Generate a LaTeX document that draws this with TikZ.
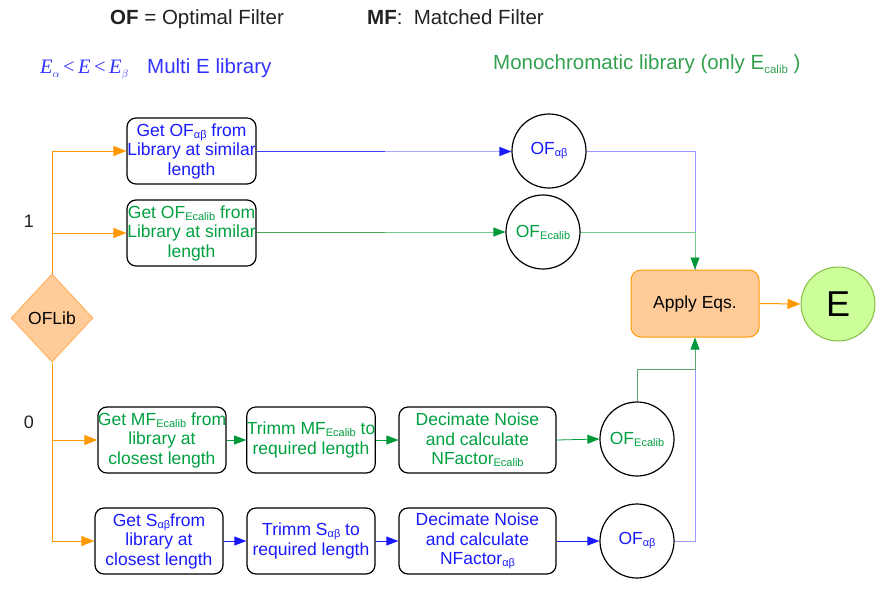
\documentclass[tikz,border=0pt]{standalone}
\usepackage{fontspec}
\setmainfont{Liberation Sans}
\newfontfamily\serifit{Liberation Serif}
\usetikzlibrary{arrows.meta,shapes.geometric}
\definecolor{blueT}{HTML}{1A1AFF}
\definecolor{blueH}{HTML}{3333FF}
\definecolor{blueS}{HTML}{4040FF}
\definecolor{blueL}{HTML}{9999FF}
\definecolor{blueM}{HTML}{AAAAFF}
\definecolor{greenT}{HTML}{00A040}
\definecolor{greenH}{HTML}{33A050}
\definecolor{greenL}{HTML}{77CC88}
\definecolor{greenM}{HTML}{44AA55}
\definecolor{greenA}{HTML}{00993A}
\definecolor{orangeL}{HTML}{FF9900}
\definecolor{peach}{HTML}{FFCC99}
\definecolor{peachB}{HTML}{FFB366}
\definecolor{lime}{HTML}{CCFF99}
\definecolor{limeB}{HTML}{88BB44}
\definecolor{darkT}{HTML}{222222}
\newcommand{\sub}[1]{\raisebox{-2pt}{\fontsize{11}{11}\selectfont #1}}
\begin{document}
\begin{tikzpicture}[x=1pt,y=-1pt,
  every node/.style={font=\fontsize{17.5}{19.5}\selectfont},
  procbox/.style={draw=black,line width=1.2pt,rounded corners=9pt,align=center,inner sep=0pt,minimum height=66pt},
  fcircle/.style={draw=black,line width=1.2pt,circle,minimum size=74pt,inner sep=0pt},
  btip/.style={-{Triangle[length=12pt,width=9pt,color=blueT]}},
  gtip/.style={-{Triangle[length=12pt,width=9pt,color=greenA]}},
  oarr/.style={draw=orangeL,line width=1pt,-{Triangle[length=13pt,width=10pt,color=orangeL]}},
  toptext/.style={font=\fontsize{20.5}{24}\selectfont,anchor=base west,inner sep=0pt}]
\useasboundingbox (0,0) rectangle (884,590);

% header texts
\node[toptext,text=darkT] (h1) at (110,24) {\textbf{OF} = Optimal Filter};
\node[toptext,text=darkT] (h2) at (367,24) {\textbf{MF}:\ \ Matched Filter};
\node[toptext,text=blueH] (h3) at (40,73) {\serifit\textit{E}\raisebox{-4pt}{\fontsize{11}{11}\selectfont$\alpha$}\,<\,\textit{E}\,<\,\textit{E}\raisebox{-4pt}{\fontsize{11}{11}\selectfont$\beta$}};
\node[toptext,text=blueH] (h4) at (147,73) {Multi E library};
\node[toptext,text=greenH] (h5) at (493,69) {Monochromatic library (only E\raisebox{-4pt}{\fontsize{11.5}{11.5}\selectfont calib} )};

\node[text=darkT,font=\fontsize{18}{20}\selectfont] (one) at (29,221) {1};
\node[text=darkT,font=\fontsize{18}{20}\selectfont] (zero) at (29,422) {0};

% decision
\node[diamond,draw=peachB,fill=peach,line width=1pt,minimum width=82pt,minimum height=88pt,inner sep=0pt,text=black] (lib) at (52,318) {OFLib};

% upper branch
\node[procbox,text=blueT,minimum width=129pt] (b1) at (191.5,151) {Get OF\sub{αβ} from\\Library at similar\\length};
\node[procbox,text=greenT,minimum width=129pt] (b2) at (191.5,233) {Get OF\sub{Ecalib} from\\Library at similar\\length};
\node[fcircle,text=blueT] (c1) at (549,151) {OF\sub{αβ}};
\node[fcircle,text=greenT] (c2) at (543,232) {OF\sub{Ecalib}};

% apply and result
\node[draw=orangeL,fill=peach,line width=1pt,rounded corners=10pt,minimum width=128pt,minimum height=67pt,inner sep=0pt,text=black] (apply) at (695,303.5) {Apply Eqs.};
\node[circle,draw=limeB,fill=lime,line width=1pt,minimum size=74pt,inner sep=0pt,font=\fontsize{36}{36}\selectfont] (E) at (838,304) {E};

% lower branch
\node[procbox,text=greenT,minimum width=128pt] (b3) at (162,440) {Get MF\sub{Ecalib} from\\library at\\closest length};
\node[procbox,text=greenT,minimum width=128pt] (b4) at (311,440) {Trimm MF\sub{Ecalib} to\\required length};
\node[procbox,text=greenT,minimum width=157pt] (b5) at (477.5,440) {Decimate Noise\\and calculate\\NFactor\sub{Ecalib}};
\node[fcircle,text=greenT] (c3) at (637,439) {OF\sub{Ecalib}};

\node[procbox,text=blueT,minimum width=128pt] (b6) at (159,541) {Get S\sub{αβ}from\\library at\\closest length};
\node[procbox,text=blueT,minimum width=128pt] (b7) at (311,541) {Trimm S\sub{αβ} to\\required length};
\node[procbox,text=blueT,minimum width=157pt] (b8) at (477.5,541) {Decimate Noise\\and calculate\\NFactor\sub{αβ}};
\node[fcircle,text=blueT] (c4) at (637,541) {OF\sub{αβ}};

\coordinate (j) at (695,369);
\coordinate (m1) at (385,151.5);
\coordinate (m2) at (385,232);

% orange connectors
\draw[oarr] (lib.north) |- (b1.west);
\draw[oarr] (lib.north) |- (b2.west);
\draw[oarr] (lib.south) |- (b3.west);
\draw[oarr] (lib.south) |- (b6.west);

% upper connectors
\draw[draw=blueS,line width=1.6pt] (b1.east |- m1) -- (m1);
\draw[draw=blueM,line width=1.4pt,btip] (m1) -- (c1.west |- m1);
\draw[draw=greenM,line width=1pt] (b2.east |- m2) -- (m2);
\draw[draw=greenL,line width=1pt,gtip] (m2) -- (c2.west);
\draw[draw=blueL,line width=0.8pt] (c1.east) -| (apply.north);
\draw[draw=greenL,line width=0.8pt,gtip] (c2.east) -| (apply.north);

% lower connectors
\draw[draw=greenT,line width=0.8pt,gtip] (b3.east) -- (b4.west);
\draw[draw=greenT,line width=0.8pt,gtip] (b4.east) -- (b5.west);
\draw[draw=greenT,line width=0.8pt,gtip] (b5.east) -- (c3.west);
\draw[draw=blueT,line width=1pt,btip] (b6.east) -- (b7.west);
\draw[draw=blueT,line width=1pt,btip] (b7.east) -- (b8.west);
\draw[draw=blueT,line width=1pt,btip] (b8.east) -- (c4.west);
\draw[draw=blueL,line width=0.8pt] (c4.east) -| (j);
\draw[draw=greenL!80!black,line width=0.8pt,gtip] (c3.north) |- (j) -- (apply.south);

% result
\draw[draw=orangeL,line width=1pt,-{Triangle[length=13pt,width=10pt,color=orangeL]}] (apply.east) -- (E.west);
\end{tikzpicture}
\end{document}
